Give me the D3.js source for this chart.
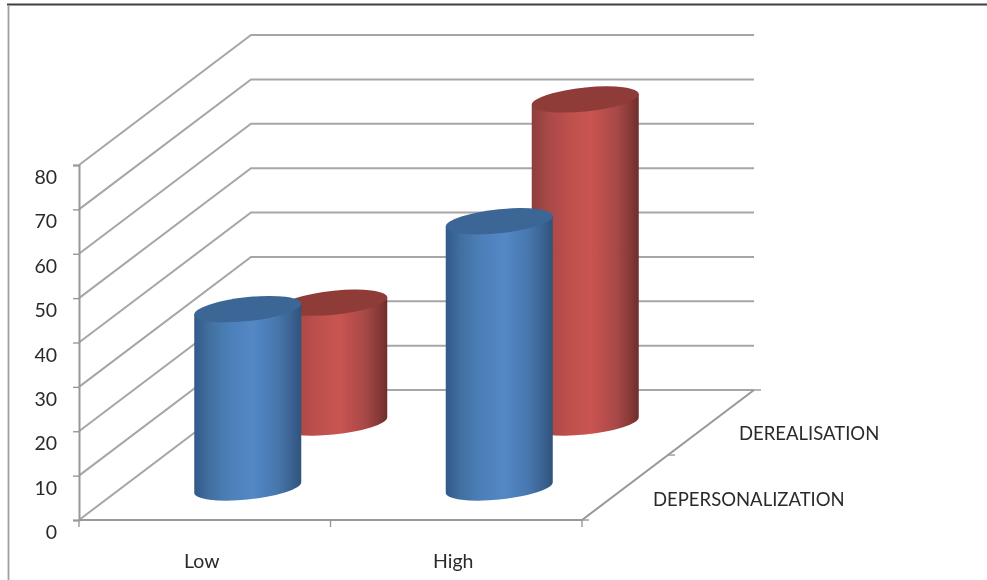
<!DOCTYPE html>
<html>
<head>
<meta charset="utf-8">
<script src="https://cdn.jsdelivr.net/npm/d3@7"></script>
<style>
    html, body { margin: 0; padding: 0; background: #fff; }
    svg { display: block; }
    text { font-family: Lato, "Open Sans", sans-serif; font-size: 18.5px; fill: #2b2b2b; }
    .ticks-y text { font-size: 19.5px; }
    .ticks-x text { font-size: 19.5px; }
</style>
</head>
<body>
<div id="chart"></div>
<script>
// chart data
const categories = ['Low', 'High'];
const seriesNames = ['DEPERSONALIZATION', 'DEREALISATION'];
const depersonalization = [40.2, 60];
const derealisation = [27, 72.8];
const yTicks = [0, 10, 20, 30, 40, 50, 60, 70, 80];

const width = 987, height = 580;
const gridColor = '#a6a6a6', axisColor = '#989898';

// the floor is sheared back: how far the back wall sits from the front edge
const wallDx = 172, wallDy = -130;

const svg = d3.select('#chart').append('svg')
    .attr('width', width)
    .attr('height', height);

// scales
const x = d3.scaleBand().domain(categories).range([79, 582]);
const y = d3.scaleLinear().domain([0, 80]).range([520, 165]);
const depth = d3.scaleBand().domain(seriesNames).range([0, 1]);
const floorX = d => d * wallDx;
const floorY = d => d * wallDy;

// slightly soft look of the original screenshot
const defs = svg.append('defs');
function addBlur(id, amount) {
    defs.append('filter').attr('id', id)
        .attr('filterUnits', 'userSpaceOnUse')
        .attr('x', 0).attr('y', 0).attr('width', width).attr('height', height)
        .append('feGaussianBlur').attr('stdDeviation', amount);
}
addBlur('soft', 0.7);
addBlur('softText', 0.4);

function addGradient(id, stops) {
    const g = defs.append('linearGradient').attr('id', id);
    stops.forEach(s => g.append('stop').attr('offset', s[0]).attr('stop-color', s[1]));
}
addGradient('blueBody', [[0, '#30598a'], [0.14, '#41709f'], [0.32, '#4c7fb8'], [0.55, '#5388c6'], [0.78, '#4776ad'], [0.93, '#385f8d'], [1, '#2e5379']]);
addGradient('redBody', [[0, '#8c3d3b'], [0.14, '#a64846'], [0.34, '#bd504d'], [0.55, '#c95451'], [0.78, '#aa4a48'], [0.93, '#853836'], [1, '#702c2b']]);
const topColors = ['#3b6696', '#8f3b39'];
const bodyIds = ['blueBody', 'redBody'];

// frame of the cropped screenshot
svg.append('line').attr('x1', 7).attr('x2', width).attr('y1', 4.5).attr('y2', 4.5)
    .attr('stroke', '#3f3f3f').attr('stroke-width', 2);
svg.append('line').attr('x1', 8.5).attr('x2', 8.5).attr('y1', 5).attr('y2', height)
    .attr('stroke', '#a0a0a0').attr('stroke-width', 1.8);

const plot = svg.append('g').attr('filter', 'url(#soft)');

// side wall and back wall gridlines
const wallLine = d3.line();
plot.selectAll('path.grid')
    .data(yTicks)
    .enter()
    .append('path')
    .classed('grid', true)
    .attr('fill', 'none')
    .attr('stroke', gridColor)
    .attr('stroke-width', 2)
    .attr('d', d => wallLine([
        [x.range()[0], y(d)],
        [x.range()[0] + wallDx, y(d) + wallDy],
        [x.range()[1] + wallDx, y(d) + wallDy]
    ]));

// floor edges
plot.append('path')
    .attr('fill', 'none')
    .attr('stroke', axisColor)
    .attr('stroke-width', 2)
    .attr('d', wallLine([
        [x.range()[0], y(0)],
        [x.range()[1], y(0)],
        [x.range()[1] + wallDx, y(0) + wallDy]
    ]));

// left axis
const labels = svg.append('g').attr('filter', 'url(#softText)');
const yAxis = plot.append('g')
    .attr('transform', `translate(${x.range()[0]},0)`)
    .call(d3.axisLeft(y).tickValues(yTicks).tickSize(6).tickFormat(''));
yAxis.select('.domain').attr('stroke', axisColor).attr('stroke-width', 2);
yAxis.selectAll('.tick line').attr('stroke', axisColor).attr('stroke-width', 1.4);

const yLabels = labels.append('g')
    .classed('ticks-y', true)
    .attr('transform', `translate(${x.range()[0]},0)`)
    .call(d3.axisLeft(y).tickValues(yTicks).tickSize(0).tickPadding(22));
yLabels.select('.domain').remove();
yLabels.selectAll('text').attr('dy', 18.5);
yLabels.attr('font-size', null).attr('font-family', null);

// category ticks sit on the band edges
const edges = [x.range()[0], x('High'), x.range()[1]];
plot.selectAll('line.xtick')
    .data(edges)
    .enter()
    .append('line')
    .classed('xtick', true)
    .attr('x1', d => d).attr('x2', d => d)
    .attr('y1', y(0)).attr('y2', y(0) + 7)
    .attr('stroke', axisColor).attr('stroke-width', 1.4);

// depth ticks along the right floor edge
plot.selectAll('line.ztick')
    .data([0, 0.5, 1])
    .enter()
    .append('line')
    .classed('ztick', true)
    .attr('x1', d => x.range()[1] + floorX(d))
    .attr('x2', d => x.range()[1] + floorX(d) + 7)
    .attr('y1', d => y(0) + floorY(d))
    .attr('y2', d => y(0) + floorY(d))
    .attr('stroke', axisColor).attr('stroke-width', 1.4);

// cylinders, back series first so the front one covers it
const rx = 53.5, ry = 12, lean = 0.1;
const values = [depersonalization, derealisation];
[1, 0].forEach(s => {
    const d = depth(seriesNames[s]) + depth.bandwidth() / 2;
    categories.forEach((cat, c) => {
        const cx = x(cat) + x.bandwidth() / 2 + floorX(d);
        const base = y(0) + floorY(d);
        const h = y(0) - y(values[s][c]);
        const g = plot.append('g')
            .attr('transform', `matrix(1,${-lean},0,1,${cx},${base})`);
        g.append('path')
            .attr('fill', `url(#${bodyIds[s]})`)
            .attr('d', `M${-rx},${-h}L${-rx},0A${rx},${ry} 0 0 0 ${rx},0L${rx},${-h}Z`);
        g.append('ellipse')
            .attr('cx', 0).attr('cy', -h)
            .attr('rx', rx).attr('ry', ry)
            .attr('fill', topColors[s]);
    });
});

// category labels
const xAxis = labels.append('g')
    .classed('ticks-x', true)
    .attr('transform', `translate(-3,${y(0)})`)
    .call(d3.axisBottom(x).tickSize(0).tickPadding(34));
xAxis.select('.domain').remove();
xAxis.attr('font-size', null).attr('font-family', null);

// series labels next to the floor
labels.selectAll('text.series')
    .data(seriesNames)
    .enter()
    .append('text')
    .classed('series', true)
    .attr('x', (d, i) => [653, 739][i])
    .attr('y', (d, i) => [505.5, 439.5][i])
    .text(d => d);
</script>
</body>
</html>
